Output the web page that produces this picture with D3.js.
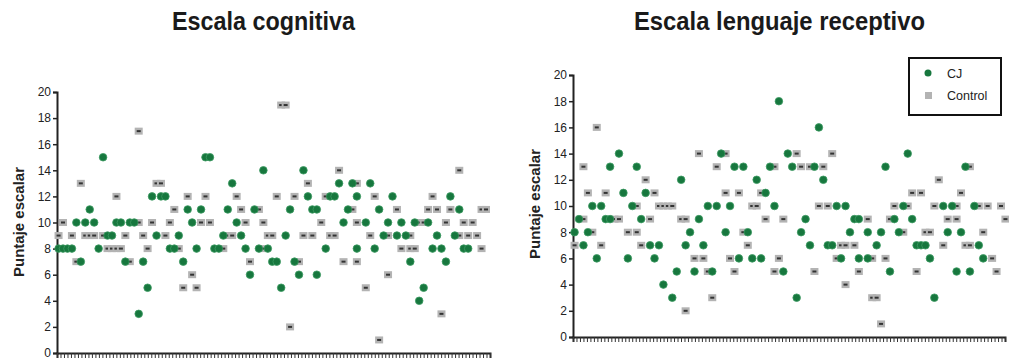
<!DOCTYPE html>
<html>
<head>
<meta charset="utf-8">
<script src="https://cdn.jsdelivr.net/npm/d3@7"></script>
<style>
  body { margin: 0; background: #fff; }
  text { font-family: "Liberation Sans", Arial, sans-serif; }
</style>
</head>
<body>
<div id="chart"></div>
<script>
// [subject slot, puntaje escalar]
var cjCognitiva = [
  [10,15],[33,15],[34,15],
  [46,14],[55,14],
  [39,13],[63,13],[66,13],[70,13],
  [21,12],[23,12],[24,12],[56,12],[61,12],[62,12],[67,12],[75,12],[88,12],
  [7,11],[29,11],[32,11],[38,11],[44,11],[52,11],[57,11],[58,11],[65,11],[72,11],[90,11],
  [4,10],[6,10],[8,10],[13,10],[14,10],[16,10],[17,10],[30,10],[40,10],[64,10],[69,10],[74,10],[77,10],[80,10],[83,10],
  [11,9],[12,9],[22,9],[27,9],[37,9],[41,9],[51,9],[73,9],[76,9],[78,9],[85,9],[89,9],
  [0,8],[1,8],[2,8],[3,8],[9,8],[25,8],[26,8],[31,8],[35,8],[36,8],[42,8],[45,8],[47,8],[60,8],[67,8],[71,8],[84,8],[86,8],[91,8],[92,8],
  [5,7],[15,7],[19,7],[28,7],[48,7],[49,7],[53,7],[79,7],[87,7],
  [43,6],[54,6],[58,6],
  [20,5],[50,5],[82,5],
  [81,4],
  [18,3]
];
var controlCognitiva = [
  [50,19],[51,19],
  [18,17],
  [63,14],[90,14],
  [5,13],[22,13],[23,13],[56,13],[67,13],
  [13,12],[29,12],[33,12],[40,12],[49,12],[53,12],[60,12],[71,12],[84,12],
  [26,11],[41,11],[45,11],[66,11],[76,11],[83,11],[85,11],[88,11],[95,11],[96,11],
  [1,10],[18,10],[21,10],[25,10],[32,10],[34,10],[42,10],[46,10],[59,10],[67,10],[81,10],[82,10],[87,10],[91,10],[93,10],
  [0,9],[3,9],[6,9],[7,9],[8,9],[10,9],[15,9],[19,9],[24,9],[38,9],[39,9],[47,9],[48,9],[55,9],[57,9],[61,9],[62,9],[70,9],[74,9],[79,9],[90,9],[92,9],[94,9],
  [11,8],[12,8],[13,8],[14,8],[20,8],[27,8],[37,8],[46,8],[77,8],[79,8],[80,8],[95,8],
  [4,7],[16,7],[43,7],[54,7],[64,7],[67,7],
  [30,6],[74,6],
  [28,5],[31,5],[69,5],
  [86,3],
  [52,2],
  [72,1]
];
var cjLenguaje = [
  [46,18],
  [55,16],
  [10,14],[33,14],[48,14],[75,14],
  [8,13],[14,13],[36,13],[38,13],[44,13],[49,13],[54,13],[70,13],[88,13],
  [24,12],[41,12],[56,12],
  [11,11],[16,11],[43,11],
  [4,10],[6,10],[13,10],[30,10],[32,10],[35,10],[45,10],[59,10],[61,10],[74,10],[83,10],[85,10],[90,10],
  [1,9],[7,9],[8,9],[15,9],[28,9],[52,9],[63,9],[64,9],[72,9],[76,9],
  [0,8],[3,8],[26,8],[34,8],[39,8],[51,8],[62,8],[66,8],[69,8],[73,8],[84,8],[87,8],
  [2,7],[17,7],[19,7],[25,7],[29,7],[53,7],[57,7],[58,7],[68,7],[77,7],[78,7],[79,7],[91,7],
  [5,6],[12,6],[18,6],[37,6],[40,6],[42,6],[60,6],[64,6],[66,6],[80,6],[92,6],
  [23,5],[27,5],[31,5],[47,5],[71,5],[86,5],[89,5],
  [20,4],
  [22,3],[50,3],[81,3]
];
var controlLenguaje = [
  [5,16],
  [28,14],[34,14],[50,14],[58,14],
  [2,13],[32,13],[45,13],[51,13],[53,13],[56,13],[89,13],
  [16,12],[82,12],
  [3,11],[7,11],[18,11],[34,11],[37,11],[42,11],[76,11],[78,11],[87,11],
  [14,10],[19,10],[20,10],[21,10],[22,10],[40,10],[41,10],[55,10],[57,10],[72,10],[75,10],[81,10],[86,10],[91,10],[93,10],[96,10],
  [2,9],[9,9],[10,9],[17,9],[24,9],[25,9],[43,9],[47,9],[66,9],[71,9],[84,9],[86,9],[97,9],
  [4,8],[12,8],[14,8],[38,8],[74,8],[79,8],[80,8],[92,8],
  [0,7],[6,7],[15,7],[39,7],[60,7],[61,7],[63,7],[83,7],[88,7],[89,7],
  [27,6],[29,6],[35,6],[46,6],[59,6],[67,6],[70,6],[94,6],
  [30,5],[36,5],[45,5],[54,5],[64,5],[77,5],[95,5],
  [61,4],
  [31,3],[67,3],[68,3],
  [25,2],
  [69,1]
];
var yTicks = [0, 2, 4, 6, 8, 10, 12, 14, 16, 18, 20];
var titles = ["Escala cognitiva", "Escala lenguaje receptivo"];
var yLabel = "Puntaje escalar";
var legendLabels = ["CJ", "Control"];

var green = "#17773e";
var grey = "#b3b3b3";

var svg = d3.select("#chart").append("svg")
  .attr("width", 1009)
  .attr("height", 360);

function drawPanel(opt) {
  var x = d3.scaleLinear().domain([-0.35, 96.9]).range([opt.left, opt.right]);
  var y = d3.scaleLinear().domain([0, 20]).range([opt.bottom, opt.top]);

  var g = svg.append("g");

  // title
  g.append("text")
    .attr("x", opt.titleX)
    .attr("y", 30)
    .attr("text-anchor", "middle")
    .attr("font-size", 25)
    .attr("font-weight", "bold")
    .attr("fill", "#1a1a1a")
    .attr("textLength", opt.titleW)
    .attr("lengthAdjust", "spacingAndGlyphs")
    .text(opt.title);

  // y axis
  var yAxis = g.append("g")
    .attr("transform", "translate(" + opt.left + ",0)")
    .call(d3.axisLeft(y).tickValues(yTicks).tickSize(4).tickPadding(2));
  yAxis.select(".domain").attr("stroke", "#222").attr("stroke-width", 2);
  yAxis.selectAll(".tick line").attr("stroke", "#222").attr("stroke-width", 1.5);
  yAxis.selectAll(".tick text")
    .attr("font-size", 12)
    .attr("font-family", "Liberation Sans, Arial, sans-serif")
    .attr("fill", "#222");

  // many small ticks on the x axis, one per subject column
  var xt = d3.range(0, 125).map(function (i) { return -0.35 + i * (97.25 / 124); });
  var xAxis = g.append("g")
    .attr("transform", "translate(0," + opt.bottom + ")")
    .call(d3.axisBottom(x).tickValues(xt).tickSize(5).tickFormat(""));
  xAxis.select(".domain").attr("stroke", "#222").attr("stroke-width", 2);
  xAxis.selectAll(".tick line").attr("stroke", "#333").attr("stroke-width", 1);

  g.append("text")
    .attr("transform", "translate(" + opt.labelX + "," + opt.labelY + ") rotate(-90)")
    .attr("text-anchor", "middle")
    .attr("font-size", 15)
    .attr("font-weight", "bold")
    .attr("fill", "#222")
    .text(yLabel);

  // control squares
  var sq = g.append("g").selectAll("g")
    .data(opt.control)
    .enter().append("g")
    .attr("transform", function (d) { return "translate(" + x(d[0]) + "," + y(d[1]) + ")"; });
  sq.append("rect")
    .attr("x", -4).attr("y", -3.5)
    .attr("width", 8).attr("height", 7)
    .attr("fill", grey);
  sq.append("rect")
    .attr("x", -2).attr("y", -1)
    .attr("width", 4).attr("height", 2)
    .attr("fill", "#333");

  // CJ circles
  g.append("g").selectAll("circle")
    .data(opt.cj)
    .enter().append("circle")
    .attr("cx", function (d) { return x(d[0]); })
    .attr("cy", function (d) { return y(d[1]); })
    .attr("r", 3.8)
    .attr("fill", green)
    .attr("stroke", "#3c9a62")
    .attr("stroke-width", 0.8);
}

drawPanel({
  left: 57, right: 490, top: 92, bottom: 353,
  title: titles[0], titleX: 263.5, titleW: 183,
  labelX: 24, labelY: 222,
  cj: cjCognitiva, control: controlCognitiva
});

drawPanel({
  left: 573, right: 1005, top: 75, bottom: 337,
  title: titles[1], titleX: 779.5, titleW: 291,
  labelX: 540, labelY: 204,
  cj: cjLenguaje, control: controlLenguaje
});

// legend
var leg = svg.append("g");
leg.append("rect")
  .attr("x", 909).attr("y", 58)
  .attr("width", 92).attr("height", 57)
  .attr("fill", "#fff")
  .attr("stroke", "#111")
  .attr("stroke-width", 2);
leg.append("circle")
  .attr("cx", 928).attr("cy", 73).attr("r", 3.5)
  .attr("fill", green);
leg.append("rect")
  .attr("x", 925).attr("y", 92)
  .attr("width", 7).attr("height", 7)
  .attr("fill", grey);
leg.selectAll("text.lbl")
  .data(legendLabels)
  .enter().append("text")
  .attr("class", "lbl")
  .attr("x", 947)
  .attr("y", function (d, i) { return 78 + i * 22; })
  .attr("font-size", 12.5)
  .attr("fill", "#222")
  .text(function (d) { return d; });
</script>
</body>
</html>
